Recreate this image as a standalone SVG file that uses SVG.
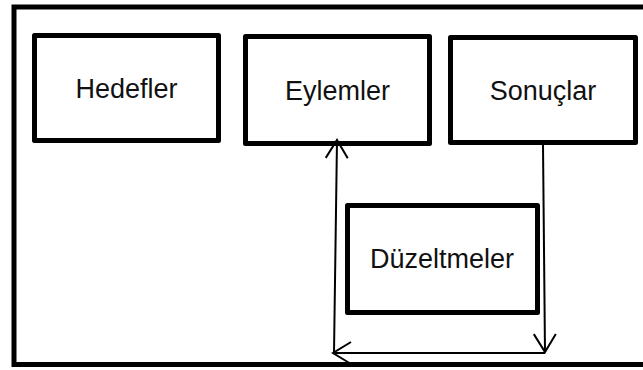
<svg xmlns="http://www.w3.org/2000/svg" width="643" height="370" viewBox="0 0 643 370">
  <style>
    .frame { fill: none; stroke: #000; stroke-width: 5; }
    .box { fill: #fff; stroke: #000; stroke-width: 5; stroke-linejoin: round; }
    .label { font-family: "Liberation Sans", Arial, sans-serif; font-size: 27px; fill: #111; text-anchor: middle; }
    .link { fill: none; stroke: #000; stroke-width: 2; marker-end: url(#open-arrow); }
  </style>
  <defs>
    <marker id="open-arrow" markerUnits="userSpaceOnUse" markerWidth="30" markerHeight="30" viewBox="-20 -15 30 30" refX="0" refY="0" orient="auto" overflow="visible">
      <path d="M-18,-11 L0,0 L-18,11" fill="none" stroke="#000" stroke-width="2"/>
    </marker>
  </defs>

  <rect width="643" height="370" fill="#fff"/>

  <!-- outer frame, right side runs past the canvas edge -->
  <path class="frame" d="M650,7 H14 V364.5 H650"/>

  <g id="hedefler">
    <rect class="box" x="34.5" y="35.5" width="184" height="105"/>
    <text class="label" x="126.5" y="98">Hedefler</text>
  </g>

  <g id="eylemler">
    <rect class="box" x="245.5" y="36.5" width="184" height="107"/>
    <text class="label" x="337.5" y="100">Eylemler</text>
  </g>

  <g id="sonuclar">
    <rect class="box" x="450.5" y="37.5" width="185" height="105"/>
    <text class="label" x="543" y="100">Sonuçlar</text>
  </g>

  <g id="duzeltmeler">
    <rect class="box" x="347.5" y="205.5" width="190" height="107"/>
    <text class="label" x="442" y="268">Düzeltmeler</text>
  </g>

  <g id="connectors">
    <line class="link" x1="543" y1="145" x2="545" y2="352"/>
    <line class="link" x1="545" y1="353" x2="333" y2="353"/>
    <line class="link" x1="334" y1="353" x2="337" y2="140"/>
  </g>
</svg>
